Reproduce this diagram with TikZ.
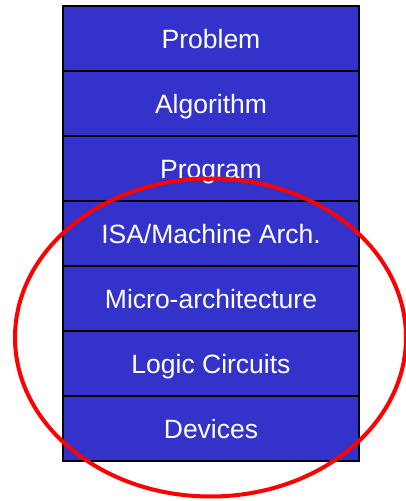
\documentclass[tikz,border=0pt]{standalone}
\usepackage{fontspec}
\setmainfont{Liberation Sans}
\definecolor{layerblue}{RGB}{51,51,204}
\begin{document}
\begin{tikzpicture}[x=1pt,y=-1pt,
  layer/.style={draw=black, line width=1.6pt, fill=layerblue, text=white,
    minimum width=296pt, minimum height=65pt, inner sep=0pt,
    font=\fontsize{26.5}{29}\selectfont, text height=19pt, text depth=-5pt}]
\useasboundingbox (0,0) rectangle (406,501);
\node[layer] (problem) at (211,38.5) {Problem};
\node[layer] (algorithm) at (211,103.5) {Algorithm};
\node[layer] (program) at (211,168.5) {Program};
\node[layer] (isa) at (211,233.5) {ISA/Machine Arch.};
\node[layer] (micro) at (211,298.5) {Micro-architecture};
\node[layer] (logic) at (211,363.5) {Logic Circuits};
\node[layer] (devices) at (211,428.5) {Devices};
\draw[red, line width=4pt] (210.5,337.5) ellipse [x radius=195.5pt, y radius=159pt];
\end{tikzpicture}
\end{document}
